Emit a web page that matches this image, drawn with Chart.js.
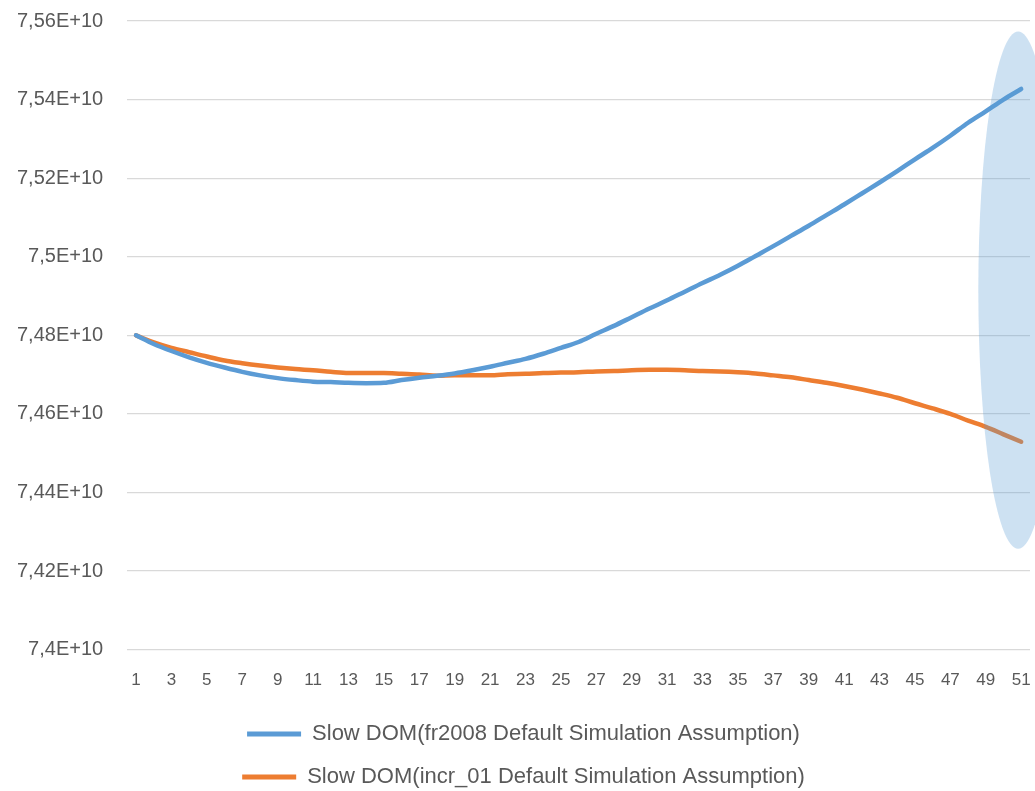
<!DOCTYPE html>
<html>
<head>
<meta charset="utf-8">
<script src="https://cdn.jsdelivr.net/npm/chart.js@4.4.1/dist/chart.umd.min.js"></script>
<style>
  html, body { margin: 0; padding: 0; background: #ffffff; }
  #wrap { width: 1035px; height: 791px; }
</style>
</head>
<body>
<div id="wrap"><canvas id="c" width="1035" height="791"></canvas></div>
<script>
const categories = ['1','2','3','4','5','6','7','8','9','10','11','12','13','14','15','16','17','18','19','20','21','22','23','24','25','26','27','28','29','30','31','32','33','34','35','36','37','38','39','40','41','42','43','44','45','46','47','48','49','50','51'];

const seriesNames = [
  'Slow DOM(fr2008 Default Simulation Assumption)',
  'Slow DOM(incr_01 Default Simulation Assumption)'
];

// values in units of 1E+10
const fr2008 = [7.4800,7.4778,7.4760,7.4744,7.4730,7.4718,7.4707,7.4698,7.4691,7.4686,
                7.4682,7.4681,7.4679,7.4678,7.4679,7.4686,7.4692,7.4697,7.4703,7.4711,
                7.4720,7.4730,7.4740,7.4753,7.4768,7.4783,7.4804,7.4824,7.4846,7.4868,
                7.4889,7.4911,7.4933,7.4954,7.4977,7.5002,7.5027,7.5053,7.5079,7.5106,
                7.5133,7.5161,7.5189,7.5218,7.5248,7.5277,7.5308,7.5341,7.5370,7.5400,
                7.5427];
const incr01 = [7.4800,7.4782,7.4768,7.4757,7.4746,7.4736,7.4729,7.4723,7.4718,7.4714,
                7.4711,7.4707,7.4704,7.4704,7.4704,7.4702,7.4700,7.4697,7.4698,7.4698,
                7.4698,7.4701,7.4702,7.4704,7.4705,7.4706,7.4708,7.4709,7.4711,7.4712,
                7.4712,7.4711,7.4709,7.4708,7.4706,7.4703,7.4698,7.4693,7.4686,7.4679,
                7.4671,7.4662,7.4652,7.4641,7.4627,7.4614,7.4600,7.4583,7.4567,7.4548,
                7.4529];

const yTickLabels = ['7,4E+10','7,42E+10','7,44E+10','7,46E+10','7,48E+10','7,5E+10','7,52E+10','7,54E+10','7,56E+10'];
const yMin = 7.40, yMax = 7.56, yStep = 0.02;

// highlight ellipse (in data units): centre category index, centre value, radii
const highlight = { index: 50, value: 7.4915, rCategories: 2.25, rValue: 0.0658 };

const E10 = 1e10;
const FONT = "'Liberation Sans', Arial, sans-serif";
const TXT = '#595959';
const CLEAR = 'rgba(0,0,0,0)';

const ellipsePlugin = {
  id: 'ellipse',
  afterDatasetsDraw(chart) {
    const { ctx, scales: { x, y } } = chart;
    const cx = x.getPixelForValue(highlight.index) - 3;
    const cy = y.getPixelForValue(highlight.value * E10);
    const step = x.getPixelForValue(1) - x.getPixelForValue(0);
    const rx = highlight.rCategories * step;
    const ry = Math.abs(y.getPixelForValue((highlight.value + highlight.rValue) * E10) - cy);
    ctx.save();
    ctx.beginPath();
    ctx.ellipse(cx, cy, rx, ry, 0, 0, Math.PI * 2);
    ctx.fillStyle = 'rgba(91,155,213,0.30)';
    ctx.fill();
    ctx.restore();
  }
};

new Chart(document.getElementById('c'), {
  type: 'line',
  data: {
    labels: categories,
    datasets: [
      { label: seriesNames[0], data: fr2008.map(v => v * E10), borderColor: '#5B9BD5', backgroundColor: '#5B9BD5',
        borderWidth: 4.5, pointRadius: 0, cubicInterpolationMode: 'monotone', borderCapStyle: 'round', borderJoinStyle: 'round' },
      { label: seriesNames[1], data: incr01.map(v => v * E10), borderColor: '#ED7D31', backgroundColor: '#ED7D31',
        borderWidth: 4.5, pointRadius: 0, cubicInterpolationMode: 'monotone', borderCapStyle: 'round', borderJoinStyle: 'round' }
    ]
  },
  options: {
    responsive: false,
    animation: false,
    layout: { padding: { left: 17, right: 5, top: 21, bottom: -7 } },
    plugins: {
      legend: {
        position: 'bottom',
        labels: {
          boxWidth: 54, boxHeight: 5, padding: 21,
          color: TXT, font: { family: FONT, size: 22 },
          generateLabels(chart) {
            return chart.data.datasets.map((d, i) => ({
              text: d.label, fillStyle: d.borderColor, strokeStyle: d.borderColor,
              lineWidth: 0, datasetIndex: i, fontColor: TXT
            }));
          }
        }
      },
      tooltip: { enabled: false }
    },
    scales: {
      x: {
        offset: true,
        grid: { display: true, drawOnChartArea: false, drawTicks: true, tickLength: 18, tickColor: CLEAR, color: CLEAR },
        border: { display: false },
        afterFit(scale) { scale.height += 8; },
        ticks: {
          autoSkip: false, maxRotation: 0, padding: 3,
          color: TXT, font: { family: FONT, size: 17 },
          callback: (v, i) => (i % 2 === 0 ? categories[i] : '')
        }
      },
      y: {
        min: yMin * E10, max: yMax * E10,
        grid: { color: '#D9D9D9', lineWidth: 1.3, drawTicks: true, tickLength: 24, tickColor: CLEAR },
        border: { display: false },
        ticks: {
          stepSize: yStep * E10, padding: 0,
          color: TXT, font: { family: FONT, size: 20 },
          callback: (v, i) => yTickLabels[i]
        }
      }
    }
  },
  plugins: [ellipsePlugin]
});
</script>
</body>
</html>
